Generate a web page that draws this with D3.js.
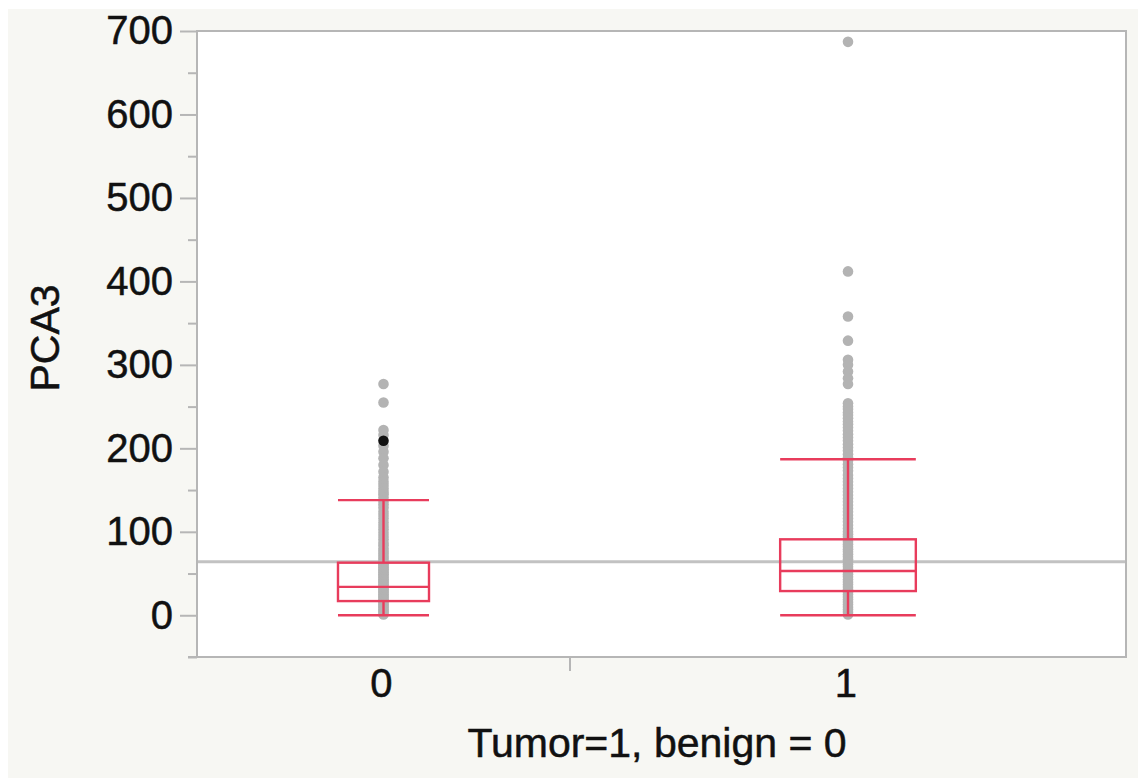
<!DOCTYPE html>
<html>
<head>
<meta charset="utf-8">
<script src="https://cdn.jsdelivr.net/npm/d3@7"></script>
<style>
  body { margin: 0; background: #fff; }
  text { font-family: "Liberation Sans", Arial, Helvetica, sans-serif; fill: #111; stroke: #111; stroke-width: 0.5px; }
</style>
</head>
<body>
<div id="chart"></div>
<script>
// groups on the x axis; band width follows group size (JMP style)
const categories = ["0", "1"];
const groupN = [269, 401];

// PCA3 values, one list per group
const values0 = [277, 255, 222, 216, 203, 196, 188, 180, 172, 165, 160, 156, 152, 148, 145, 141, 137, 133,
  129, 124, 120, 116, 111, 107, 103, 99, 95, 91, 87, 84, 80, 77, 74, 71, 68, 65, 63, 61, 59, 57, 55, 53,
  51, 49, 47, 45, 43, 41, 39, 37, 35, 33, 31, 29, 27, 25, 23, 21, 19, 17, 15, 13, 11, 9, 7, 5, 3, 1];
const values1 = [687, 412, 358, 329, 306, 300, 292, 284, 277, 254, 250, 247, 243, 240, 236, 232, 229, 225,
  221, 217, 213, 209, 205, 201, 197, 193, 189, 185, 181, 177, 173, 168, 164, 160, 156, 152, 148, 144, 140,
  136, 132, 128, 124, 120, 116, 112, 108, 104, 100, 97, 94, 91, 88, 85, 82, 79, 76, 73, 70, 67, 64, 61,
  58, 55, 52, 49, 46, 43, 40, 37, 34, 31, 28, 25, 22, 19, 16, 13, 10, 7, 4, 1];
const highlighted = [{group: 0, value: 209}];

// quantile box summary per group
const whiskerLow = [0, 0];
const q1 = [17, 29];
const median = [34, 53];
const q3 = [63, 91];
const whiskerHigh = [138, 187];
const grandMean = 64;

const yTicks = [0, 100, 200, 300, 400, 500, 600, 700];
const yMinorTicks = [-50, 50, 150, 250, 350, 450, 550, 650];

const W = 1138, H = 778;
const plot = {left: 197, top: 31, right: 1126, bottom: 657};
const red = "#e83c5c", grid = "#b6b6b6", dot = "#b3b3b3";

const svg = d3.select("#chart").append("svg")
  .attr("width", W).attr("height", H);

svg.append("rect").attr("x", 8).attr("y", 9)
  .attr("width", W - 8).attr("height", H - 9).attr("fill", "#f7f7f3");

const y = d3.scaleLinear().domain([-50, 700]).range([plot.bottom, plot.top]);
const total = d3.sum(groupN);
const x = d3.scaleLinear().domain([0, total]).range([plot.left, plot.right]);
const starts = groupN.map((n, i) => d3.sum(groupN.slice(0, i)));
const center = i => x(starts[i] + groupN[i] / 2);
const bandW = i => x(groupN[i]) - x(0);
const boxW = i => bandW(i) * 0.244;

svg.append("rect")
  .attr("x", plot.left).attr("y", plot.top)
  .attr("width", plot.right - plot.left).attr("height", plot.bottom - plot.top)
  .attr("fill", "#fff");

// y axis: major and minor ticks
const yAxis = svg.append("g").attr("transform", "translate(" + plot.left + ",0)")
  .call(d3.axisLeft(y).tickValues(yTicks).tickSize(17).tickPadding(7));
yAxis.select(".domain").remove();
yAxis.selectAll("line").attr("stroke", grid).attr("stroke-width", 2);
yAxis.selectAll("text").attr("font-size", 40).attr("fill", "#111")
  .style("font-family", "'Liberation Sans', Arial, sans-serif");

const yMinor = svg.append("g").attr("transform", "translate(" + plot.left + ",0)")
  .call(d3.axisLeft(y).tickValues(yMinorTicks).tickSize(9).tickFormat(""));
yMinor.select(".domain").remove();
yMinor.selectAll("line").attr("stroke", grid).attr("stroke-width", 2);

// x axis: divider tick between groups, labels at group centers
const xAxis = svg.append("g").attr("transform", "translate(0," + plot.bottom + ")");
xAxis.selectAll("line.div")
  .data(starts.slice(1))
  .enter().append("line")
  .attr("x1", d => x(d)).attr("x2", d => x(d))
  .attr("y1", 0).attr("y2", 14)
  .attr("stroke", grid).attr("stroke-width", 2);
xAxis.selectAll("text")
  .data(categories)
  .enter().append("text")
  .attr("x", (d, i) => center(i) - 2)
  .attr("y", 40)
  .attr("text-anchor", "middle")
  .attr("font-size", 40)
  .text(d => d);

// grand mean line
svg.append("line")
  .attr("x1", plot.left).attr("x2", plot.right)
  .attr("y1", y(grandMean)).attr("y2", y(grandMean))
  .attr("stroke", "#c2c2c2").attr("stroke-width", 3);

// points
const points = [];
values0.forEach(v => points.push({group: 0, value: v}));
values1.forEach(v => points.push({group: 1, value: v}));
svg.append("g").selectAll("circle")
  .data(points)
  .enter().append("circle")
  .attr("cx", d => center(d.group))
  .attr("cy", d => y(d.value))
  .attr("r", 5.3)
  .attr("fill", dot);
svg.append("g").selectAll("circle")
  .data(highlighted)
  .enter().append("circle")
  .attr("cx", d => center(d.group))
  .attr("cy", d => y(d.value))
  .attr("r", 5.3)
  .attr("fill", "#111");

// quantile boxes
const boxes = svg.append("g").attr("fill", "none").attr("stroke", red).attr("stroke-width", 2.4);
categories.forEach((c, i) => {
  const cx = center(i), hw = boxW(i) / 2;
  const g = boxes.append("g");
  g.append("rect")
    .attr("x", cx - hw).attr("y", y(q3[i]))
    .attr("width", hw * 2).attr("height", y(q1[i]) - y(q3[i]));
  [median[i], whiskerLow[i], whiskerHigh[i]].forEach(v => {
    g.append("line").attr("x1", cx - hw).attr("x2", cx + hw)
      .attr("y1", y(v)).attr("y2", y(v));
  });
  g.append("line").attr("x1", cx).attr("x2", cx)
    .attr("y1", y(whiskerHigh[i])).attr("y2", y(q3[i]));
  g.append("line").attr("x1", cx).attr("x2", cx)
    .attr("y1", y(q1[i])).attr("y2", y(whiskerLow[i]));
});

// frame
svg.append("rect")
  .attr("x", plot.left).attr("y", plot.top)
  .attr("width", plot.right - plot.left).attr("height", plot.bottom - plot.top)
  .attr("fill", "none").attr("stroke", grid).attr("stroke-width", 2);
svg.append("line")
  .attr("x1", plot.left - 9).attr("x2", plot.left)
  .attr("y1", plot.bottom).attr("y2", plot.bottom)
  .attr("stroke", grid).attr("stroke-width", 2);

// axis titles
svg.append("text")
  .attr("transform", "translate(59," + 338 + ") rotate(-90)")
  .attr("text-anchor", "middle")
  .attr("font-size", 41)
  .text("PCA3");
svg.append("text")
  .attr("x", 657).attr("y", 757)
  .attr("text-anchor", "middle")
  .attr("font-size", 41)
  .text("Tumor=1, benign = 0");
</script>
</body>
</html>
